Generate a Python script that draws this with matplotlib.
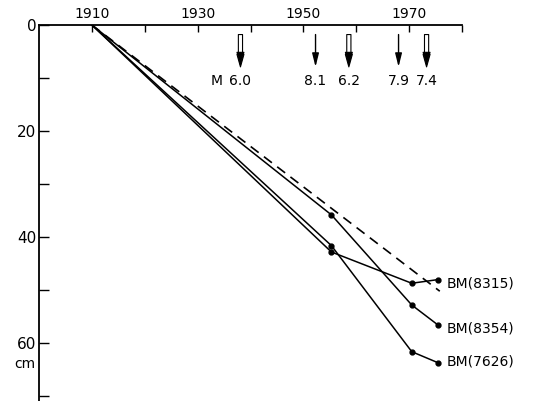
import matplotlib
matplotlib.use("Agg")
import matplotlib.pyplot as plt

# survey years and cumulative subsidence (cm) for each benchmark
bm_names = ["BM(8315)", "BM(8354)", "BM(7626)"]
bm_years = [1910, 1955.3, 1970.5, 1975.5]
bm_8315 = [0, 42.8, 48.7, 48.0]
bm_8354 = [0, 35.8, 52.8, 56.6]
bm_7626 = [0, 41.6, 61.6, 63.7]

# dashed trend line
trend_years = [1910, 1975.8]
trend_cm = [0, 50.2]

# earthquakes: year, magnitude, hollow arrow?
quake_years = [1938.1, 1952.3, 1958.6, 1968.0, 1973.3]
quake_mags = ["6.0", "8.1", "6.2", "7.9", "7.4"]
quake_hollow = [True, False, True, False, True]

x_ticks = [1910, 1930, 1950, 1970]
x_minor = [1920, 1940, 1960, 1980]
y_ticks = [0, 20, 40, 60]
y_minor = [10, 30, 50, 70]

plt.rcParams["font.family"] = "DejaVu Sans"

fig = plt.figure(figsize=(5.43, 4.01), dpi=100)
ax = fig.add_axes([39 / 543, 0.0, (462 - 39) / 543, 376 / 401])

ax.set_xlim(1900, 1980)
ax.set_ylim(70.9, 0)

for s in ["right", "bottom"]:
    ax.spines[s].set_visible(False)
for s in ["left", "top"]:
    ax.spines[s].set_linewidth(1.3)

ax.xaxis.tick_top()
ax.set_xticks(x_ticks)
ax.set_xticks(x_minor, minor=True)
ax.set_yticks(y_ticks)
ax.set_yticks(y_minor, minor=True)
ax.tick_params(axis="x", which="both", direction="in", length=5, width=1, labelsize=10, pad=3)
ax.tick_params(axis="y", which="both", direction="in", length=7, width=1, labelsize=11, pad=2)

ax.plot(trend_years, trend_cm, color="black", lw=1.2, ls=(0, (6, 4)))

series = [bm_8315, bm_8354, bm_7626]
for name, vals in zip(bm_names, series):
    ax.plot(bm_years, vals, color="black", lw=1.1)
    ax.plot(bm_years[1:], vals[1:], "o", color="black", ms=3.5)

label_y = [48.7, 57.2, 63.5]
for name, ly in zip(bm_names, label_y):
    ax.text(1977, ly, name, fontsize=10, va="center", ha="left")

# earthquake arrows
for yr, mag, hollow in zip(quake_years, quake_mags, quake_hollow):
    if hollow:
        ax.annotate("", xy=(yr, 7.9), xytext=(yr, 1.8),
                    arrowprops=dict(arrowstyle="simple,head_width=0.5,head_length=0.9,tail_width=0.3",
                                    fc="white", ec="black", lw=0.8, shrinkA=0, shrinkB=0))
        ax.annotate("", xy=(yr, 7.9), xytext=(yr, 5.2),
                    arrowprops=dict(arrowstyle="-|>,head_width=0.25,head_length=0.9",
                                    fc="black", ec="black", lw=0.8, shrinkA=0, shrinkB=0))
    else:
        ax.annotate("", xy=(yr, 7.9), xytext=(yr, 1.8),
                    arrowprops=dict(arrowstyle="-|>,head_width=0.2,head_length=0.8",
                                    fc="black", ec="black", lw=1.0, shrinkA=0, shrinkB=0))
    ax.text(yr, 10.5, mag, fontsize=10, ha="center", va="center")
ax.text(quake_years[0] - 3.4, 10.5, "M", fontsize=10, ha="right", va="center")

ax.text(-0.008, 1 - 63.9 / 70.9, "cm", transform=ax.transAxes, fontsize=10,
        ha="right", va="center")

fig.savefig("out.png", dpi=100)
